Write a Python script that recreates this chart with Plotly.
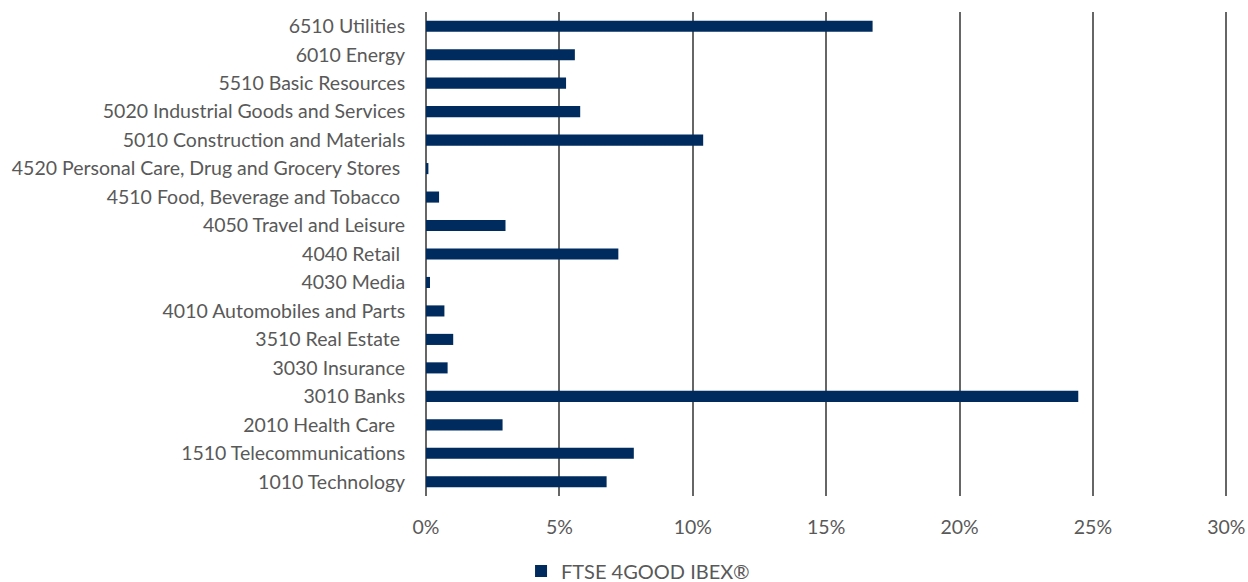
import plotly.graph_objects as go

# Sector weights of the index (percent), listed bottom to top
sectors = [
    "1010 Technology",
    "1510 Telecommunications",
    "2010 Health Care\u00a0\u00a0",
    "3010 Banks",
    "3030 Insurance",
    "3510 Real Estate\u00a0",
    "4010 Automobiles and Parts",
    "4030 Media",
    "4040 Retail\u00a0",
    "4050 Travel and Leisure",
    "4510 Food, Beverage and Tobacco\u00a0",
    "4520 Personal Care, Drug and Grocery Stores\u00a0",
    "5010 Construction and Materials",
    "5020 Industrial Goods and Services",
    "5510 Basic Resources",
    "6010 Energy",
    "6510 Utilities",
]
weights = [6.77, 7.79, 2.87, 24.45, 0.81, 1.02, 0.69, 0.15, 7.21, 2.98,
           0.49, 0.09, 10.39, 5.78, 5.25, 5.58, 16.74]

x_ticks = [0, 5, 10, 15, 20, 25, 30]
x_tick_labels = ["0%", "5%", "10%", "15%", "20%", "25%", "30%"]

series_name = "FTSE 4GOOD IBEX®"
navy = "#002b5e"
grey_text = "#595959"
grid_grey = "#666666"

fig = go.Figure(
    go.Bar(
        x=weights,
        y=sectors,
        orientation="h",
        name=series_name,
        marker=dict(color=navy, line=dict(width=0)),
        showlegend=True,
    )
)

fig.update_layout(
    width=1248,
    height=582,
    margin=dict(l=426, r=19, t=12, b=86),
    paper_bgcolor="white",
    plot_bgcolor="white",
    bargap=0.61,
    font=dict(family="Lato, 'Open Sans', sans-serif", size=19.5, color=grey_text),
    legend=dict(
        orientation="h",
        xref="container",
        yref="container",
        x=0.4175,
        y=0.019,
        xanchor="left",
        yanchor="middle",
        font=dict(size=20, color=grey_text),
        itemwidth=30,
    ),
)

fig.update_xaxes(
    range=[0, 30.1],
    tickvals=x_ticks,
    ticktext=x_tick_labels,
    showgrid=True,
    gridcolor=grid_grey,
    gridwidth=2,
    zeroline=True,
    zerolinecolor=grid_grey,
    zerolinewidth=2,
    showline=False,
    ticks="outside",
    ticklen=0,
    ticklabelstandoff=14,
    tickfont=dict(size=19.5, color=grey_text),
    automargin=False,
    fixedrange=True,
)

fig.update_yaxes(
    categoryorder="array",
    categoryarray=sectors,
    showgrid=False,
    zeroline=False,
    showline=False,
    ticks="outside",
    ticklen=0,
    ticklabelstandoff=16,
    tickfont=dict(size=19.5, color=grey_text),
    automargin=False,
    fixedrange=True,
)

fig.write_html("out.html")
